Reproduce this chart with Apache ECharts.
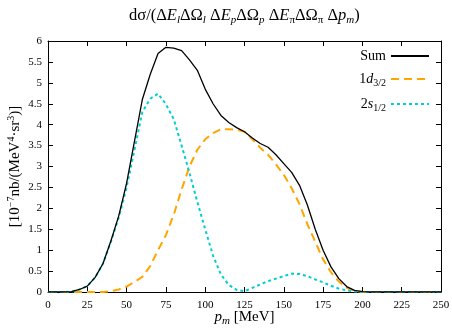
<!DOCTYPE html>
<html><head><meta charset="utf-8">
<script src="https://cdn.jsdelivr.net/npm/echarts@6/dist/echarts.min.js"></script>
<style>html,body{margin:0;padding:0;background:#fff}#c{width:452px;height:328px}</style>
</head><body><div id="c"></div>
<script>
const pm = [0,5,10,15,20,25,30,35,40,45,50,55,60,65,70,75,80,85,90,95,100,105,110,115,120,125,130,135,140,145,150,155,160,165,170,175,180,185,190,195,200,205,210,215,220,225,230,235,240,245,250];
const sumVals = [0,0,0,0.01,0.06,0.14,0.35,0.68,1.22,1.82,2.6,3.6,4.6,5.2,5.7,5.85,5.83,5.77,5.55,5.3,4.85,4.5,4.22,4.05,3.93,3.83,3.68,3.55,3.46,3.28,3.07,2.86,2.55,2.08,1.5,1.0,0.6,0.32,0.13,0.04,0.01,0,0,0,0,0,0,0,0,0,0];
const d32Vals = [0,0,0,0,0,0,0,0,0.02,0.06,0.13,0.24,0.36,0.62,1.0,1.36,1.85,2.45,3.0,3.4,3.65,3.8,3.89,3.89,3.88,3.83,3.65,3.45,3.28,3.05,2.8,2.48,2.1,1.62,1.2,0.78,0.47,0.25,0.1,0.03,0,0,0,0,0,0,0,0,0,0,0];
const s12Vals = [0,0,0,0.01,0.06,0.14,0.35,0.68,1.2,1.78,2.5,3.4,4.3,4.62,4.74,4.49,4.13,3.5,2.85,2.15,1.5,0.87,0.42,0.17,0.05,0.02,0.1,0.18,0.26,0.32,0.38,0.44,0.43,0.38,0.3,0.23,0.15,0.08,0.04,0.01,0,0,0,0,0,0,0,0,0,0,0];
const xTicks = [0,25,50,75,100,125,150,175,200,225,250];
const yTicks = [0,0.5,1,1.5,2,2.5,3,3.5,4,4.5,5,5.5,6];

const FONT = 'Liberation Serif';
const chart = echarts.init(document.getElementById('c'), null, {renderer:'canvas'});
const pair = a => pm.map((x,i)=>[x,a[i]]);
const axisCommon = {
  axisLine:{show:true,onZero:false,lineStyle:{color:'#000',width:1}},
  axisTick:{show:true,inside:true,length:5,lineStyle:{color:'#000'}},
  splitLine:{show:false},
  axisLabel:{color:'#000',fontFamily:FONT,fontSize:11}
};
function mkRich(fs, ss){
  return {
    n:{fontFamily:FONT,fontSize:fs,color:'#000',fontWeight:'normal'},
    i:{fontFamily:FONT,fontSize:fs,fontStyle:'italic',color:'#000',fontWeight:'normal'},
    sub:{fontFamily:FONT,fontSize:ss,color:'#000',fontWeight:'normal',verticalAlign:'bottom',padding:[Math.round(fs*0.55),0,0,0]},
    subi:{fontFamily:FONT,fontSize:ss,fontStyle:'italic',color:'#000',fontWeight:'normal',verticalAlign:'bottom',padding:[Math.round(fs*0.55),0,0,0]},
    sup:{fontFamily:FONT,fontSize:ss,color:'#000',fontWeight:'normal',verticalAlign:'top',padding:[0,0,Math.round(fs*0.5),0]}
  };
}
const legendNames = {
  'Sum':'{n|Sum}',
  '1d32':'{n|1}{i|d}{sub|3/2}',
  '2s12':'{n|2}{i|s}{sub|1/2}'
};
chart.setOption({
  animation:false,
  backgroundColor:'#fff',
  title:{
    text:'{n|dσ/(Δ}{i|E}{subi|l}{n|ΔΩ}{subi|l}{n| Δ}{i|E}{subi|p}{n|ΔΩ}{subi|p}{n| Δ}{i|E}{sub|π}{n|ΔΩ}{sub|π}{n| Δ}{i|p}{subi|m}{n|)}',
    left:124, top:1,
    textStyle:{fontWeight:'normal',rich:mkRich(16.5,11)}
  },
  legend:{
    right:17, top:44, orient:'vertical', align:'right',
    itemWidth:38, itemHeight:10, itemGap:9,
    data:['Sum','1d32','2s12'],
    formatter:n=>legendNames[n],
    itemStyle:{opacity:0},
    textStyle:{rich:mkRich(14,10)},
    selectedMode:false
  },
  grid:{left:48,right:11,top:41,bottom:36,outerBoundsMode:'none',containLabel:false},
  xAxis:[
    Object.assign({type:'value',min:0,max:250,interval:25,position:'bottom',
      name:'{i|p}{subi|m}{n| [MeV]}',nameLocation:'middle',nameGap:16,nameMoveOverlap:false,
      nameTextStyle:{rich:mkRich(15,11)}},axisCommon),
    Object.assign({},axisCommon,{type:'value',min:0,max:250,interval:25,position:'top',axisLabel:{show:false}})
  ],
  yAxis:[
    Object.assign({type:'value',min:0,max:6,interval:0.5,position:'left',
      name:'{n|[10}{sup|−7}{n|nb/(MeV}{sup|4}{n|·sr}{sup|3}{n|)]}',nameLocation:'middle',nameGap:24,nameRotate:90,nameMoveOverlap:false,
      nameTextStyle:{rich:mkRich(15,10)}},axisCommon,{axisLabel:{color:'#000',fontFamily:FONT,fontSize:11,margin:6}}),
    Object.assign({},axisCommon,{type:'value',min:0,max:6,interval:0.5,position:'right',axisLabel:{show:false}})
  ],
  series:[
    {name:'Sum',type:'line',data:pair(sumVals),showSymbol:false,symbol:'none',
      lineStyle:{color:'#000',width:1.3},itemStyle:{color:'#000'},z:3},
    {name:'1d32',type:'line',data:pair(d32Vals),showSymbol:false,symbol:'none',
      lineStyle:{color:'#FFA500',width:2,type:[8,5]},itemStyle:{color:'#FFA500'},z:2},
    {name:'2s12',type:'line',data:pair(s12Vals),showSymbol:false,symbol:'none',
      lineStyle:{color:'#00CED1',width:2,type:[3,3]},itemStyle:{color:'#00CED1'},z:2}
  ]
});
</script></body></html>
